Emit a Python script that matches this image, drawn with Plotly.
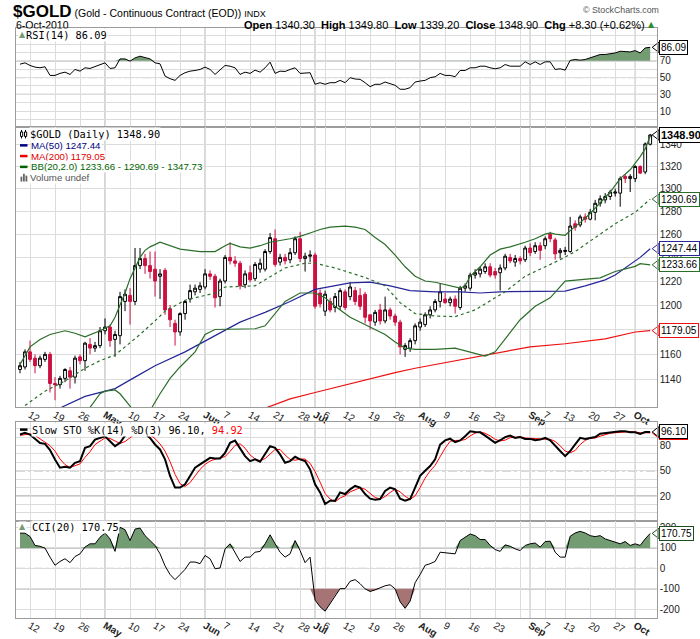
import numpy as np
import pandas as pd
import plotly.graph_objects as go

# trading days on the chart (8-Apr-2010 .. 6-Oct-2010), exchange holidays left out
HOLIDAYS = ["2010-05-31", "2010-07-05", "2010-09-06"]
DATES = [d for d in pd.bdate_range("2010-04-08", "2010-10-06")
         if d.strftime("%Y-%m-%d") not in HOLIDAYS]

# daily candles
OPEN = [1148, 1150, 1162, 1157, 1151, 1156, 1160, 1137, 1136, 1141, 1147, 1142, 1158, 1155, 1168, 1165, 1167,
        1179, 1182, 1172, 1175, 1203, 1208, 1203, 1233, 1239, 1233, 1230, 1224, 1229, 1197, 1185, 1178, 1193, 1205, 1211, 1213,
        1215, 1226, 1224, 1207, 1220, 1240, 1237, 1235, 1217, 1227, 1222, 1230, 1230, 1245, 1256, 1236, 1240, 1238, 1244, 1256, 1239, 1241,
        1242, 1210, 1195, 1203, 1198, 1199, 1211, 1207, 1212, 1208, 1209, 1192, 1186, 1196, 1187, 1196, 1191, 1186, 1164, 1165, 1171,
        1182, 1184, 1192, 1196, 1203, 1205, 1202, 1205, 1198, 1214, 1214, 1225, 1226, 1228, 1232, 1228, 1227, 1231, 1240, 1236, 1239, 1238,
        1248, 1245, 1250, 1250, 1260, 1255, 1244, 1245, 1245, 1269, 1268, 1275, 1273, 1279, 1287, 1290, 1293, 1296, 1296, 1311, 1309,
        1309, 1320, 1315, 1340.3]
HIGH = [1154, 1164, 1171, 1160, 1159, 1162, 1162, 1142, 1143, 1149, 1150, 1159, 1160, 1170, 1173, 1170, 1182,
        1189, 1184, 1179, 1211, 1213, 1214, 1248, 1248, 1243, 1245, 1245, 1230, 1231, 1200, 1188, 1194, 1204, 1217, 1217, 1219,
        1230, 1229, 1226, 1222, 1242, 1253, 1241, 1237, 1229, 1233, 1236, 1239, 1247, 1261, 1264, 1243, 1243, 1248, 1258, 1262, 1244, 1246,
        1244, 1213, 1212, 1206, 1210, 1214, 1213, 1219, 1215, 1214, 1211, 1192, 1196, 1201, 1207, 1198, 1193, 1188, 1169, 1173, 1185,
        1189, 1194, 1199, 1205, 1218, 1210, 1207, 1208, 1216, 1218, 1227, 1230, 1232, 1235, 1235, 1231, 1234, 1243, 1243, 1242, 1241, 1250,
        1252, 1253, 1253, 1258, 1262, 1257, 1248, 1249, 1275, 1272, 1277, 1278, 1282, 1290, 1294, 1296, 1299, 1300, 1311, 1313, 1313,
        1321, 1321, 1342, 1349.8]
LOW = [1145, 1148, 1154, 1145, 1149, 1154, 1130, 1124, 1133, 1138, 1133, 1137, 1152, 1147, 1160, 1162, 1165,
       1176, 1166, 1158, 1168, 1195, 1184, 1200, 1230, 1226, 1222, 1207, 1205, 1192, 1182, 1167, 1175, 1188, 1202, 1208, 1210,
       1213, 1221, 1198, 1199, 1218, 1234, 1232, 1213, 1214, 1219, 1220, 1227, 1228, 1243, 1232, 1233, 1234, 1235, 1242, 1236, 1228, 1236,
       1197, 1198, 1191, 1194, 1194, 1196, 1196, 1204, 1200, 1196, 1185, 1180, 1183, 1184, 1185, 1188, 1183, 1160, 1158, 1162, 1168,
       1179, 1182, 1189, 1194, 1198, 1201, 1199, 1193, 1196, 1211, 1212, 1222, 1223, 1226, 1223, 1222, 1212, 1229, 1235, 1232, 1234, 1236,
       1241, 1243, 1238, 1247, 1253, 1238, 1239, 1242, 1244, 1263, 1266, 1270, 1272, 1272, 1284, 1287, 1290, 1293, 1284, 1305, 1297,
       1306, 1313, 1313, 1339.2]
CLOSE = [1151, 1162, 1156, 1151, 1157, 1160, 1137, 1136, 1141, 1148, 1142, 1157, 1155, 1169, 1165, 1167, 1179,
         1182, 1171, 1176, 1207, 1209, 1203, 1233, 1239, 1233, 1228, 1220, 1226, 1196, 1188, 1178, 1193, 1203, 1212, 1214, 1216,
         1226, 1224, 1206, 1220, 1240, 1237, 1235, 1216, 1226, 1221, 1234, 1235, 1245, 1257, 1234, 1240, 1237, 1244, 1256, 1239, 1241, 1242,
         1199, 1201, 1209, 1196, 1207, 1212, 1198, 1215, 1203, 1199, 1190, 1187, 1194, 1187, 1196, 1191, 1186, 1166, 1167, 1171, 1183,
         1186, 1192, 1196, 1203, 1211, 1202, 1205, 1199, 1214, 1216, 1225, 1227, 1230, 1232, 1225, 1225, 1231, 1241, 1237, 1239, 1237, 1248,
         1244, 1250, 1246, 1256, 1256, 1243, 1246, 1246, 1267, 1266, 1275, 1273, 1279, 1287, 1291, 1293, 1297, 1297, 1309, 1309, 1311,
         1320, 1314, 1340.6, 1348.9]

RSI = [66, 67.6, 64.5, 62.5, 61.7, 62.9, 52.6, 52.6, 55, 56.5, 53.8, 59.7, 57.7, 61.7, 60.9, 62.9, 65.2,
       67.6, 60.9, 61.7, 72.3, 72.3, 69.6, 73.5, 75.5, 73.5, 72.3, 67.6, 66.4, 51.8, 48.7, 46.7, 52.6, 55.8, 57.7, 58.5, 59.7,
       62.5, 59.7, 53.8, 59.7, 64.5, 63.6, 61.7, 53.8, 56.5, 55, 58.9, 56.5, 61.7, 68.4, 55, 57.7, 57.3, 59.7, 61.7, 55, 55, 55.8,
       42, 43.9, 42, 43.9, 43.9, 46.7, 43.9, 49.9, 48.3, 47.9, 43.9, 39.2, 42, 42, 44.7, 42.8, 40.8, 36.1, 36.1, 38, 44.7,
       45.9, 46.7, 49.9, 51, 55, 52.6, 52.6, 51, 58.5, 58.5, 61.7, 61.7, 63.6, 63.6, 61.7, 60.5, 61.7, 65.6, 63.6, 63.6, 63.6, 68.8,
       65.6, 68.8, 65.6, 68.8, 68.8, 59.7, 60.5, 58.9, 70.5, 71.6, 70.8, 71.6, 73.5, 76.3, 77.5, 77.5, 78.3, 79.4, 81.4, 81.4, 80.6,
       82.2, 79.4, 85.4, 86.09]

STO_K = [93, 95, 93, 88, 83, 82, 74.5, 63.5, 53.6, 54.8, 53.6, 59.5, 61.5, 77.2, 79.2, 87, 89,
         90.9, 85, 79.2, 83.1, 91.7, 94, 94.8, 94.8, 94, 89, 81.2, 75.3, 63.5, 43.9, 30.1, 30.1, 34, 43.9, 53.6, 57.6,
         61.5, 65.4, 64.6, 64.6, 71.3, 83.1, 85.8, 77.2, 67.4, 61.5, 63.5, 60.7, 69.4, 79.2, 77.2, 69.4, 59.5, 61.5, 66.6, 63.5, 61.5, 51.6,
         34, 24.3, 10.6, 14.5, 14.5, 24.2, 22.4, 28, 32, 30, 22.4, 17, 15.7, 16.5, 26.2, 30, 28, 17, 14.5, 16.5, 30,
         44, 50, 55.6, 63.5, 81, 86, 88, 84, 86, 91, 96.8, 96, 95.6, 91.7, 87, 83.1, 86.2, 90, 91.7, 89, 90, 87.8,
         87.8, 86.2, 87, 89, 86.2, 79.3, 73.4, 67.4, 73.4, 81.2, 89, 87.8, 89, 90, 94, 94.8, 94.8, 95.6, 96.8, 96.8, 95.6,
         95.6, 93.6, 96, 96.1]
STO_D = [92, 93, 93.7, 92, 88, 84.3, 79.8, 73.3, 63.9, 57.3, 54, 56, 58.2, 66, 72.6, 81.1, 85,
         89, 88.3, 85, 82.4, 84.7, 89.6, 93.5, 94.5, 94.5, 92.6, 88.1, 81.8, 73.3, 60.9, 45.8, 34.7, 31.4, 36, 43.8, 51.7,
         57.6, 61.5, 63.8, 64.9, 66.8, 73, 80.1, 82, 76.8, 68.7, 64.1, 61.9, 64.5, 69.8, 75.3, 75.3, 68.7, 63.5, 62.5, 63.9, 63.9, 58.9,
         49, 36.6, 23, 16.5, 13.2, 17.7, 20.4, 24.9, 27.5, 30, 28.1, 23.1, 18.4, 16.4, 19.5, 24.2, 28.1, 25, 19.8, 16, 20.3,
         30.2, 41.3, 49.9, 56.4, 66.7, 76.8, 85, 86, 86, 87, 91.3, 94.6, 96.1, 94.4, 91.4, 87.3, 85.4, 86.4, 89.3, 90.2, 90.2, 88.9,
         88.5, 87.3, 87, 87.4, 87.4, 84.8, 79.6, 73.4, 71.4, 74, 81.2, 86, 88.6, 88.9, 91, 92.9, 94.5, 95.1, 95.7, 96.4, 96.4,
         96, 95, 95.1, 94.92]

CCI = [172, 172, 156, 112, 108, 99, 55, 15, 34, 47, 28, 58, 71, 104, 120, 120, 152,
       173, 144, 83, 201, 189, 136, 192, 197, 160, 136, 112, 71, 12, -30, -55, -30, -5, 31, 31, 23,
       63, 47, -2, 2, 95, 120, 76, 34, 55, 55, 79, 83, 120, 164, 120, 79, 55, 71, 136, 87, 28, 55,
       -155, -188, -209, -171, -131, -99, -99, -63, -55, -75, -100, -113, -105, -95, -85, -80, -100, -163, -195, -160, -70,
       -30, 15, 23, 34, 79, 76, 71, 71, 136, 152, 168, 160, 141, 141, 112, 92, 83, 115, 108, 95, 87, 112,
       120, 124, 104, 131, 133, 79, 55, 55, 157, 173, 181, 173, 160, 155, 160, 144, 136, 128, 120, 131, 112,
       120, 112, 144, 170.75]

# overlay lines at sample dates (MM-DD)
BB_UP_D = ["04-08", "04-12", "04-14", "04-16", "04-21", "04-23", "04-27", "04-30", "05-04", "05-05", "05-06", "05-07",
           "05-10", "05-11", "05-12", "05-13", "05-14", "05-18", "05-20", "05-24", "05-28", "06-03", "06-07", "06-08",
           "06-10", "06-14", "06-16", "06-18", "06-24", "06-28", "06-30", "07-02", "07-07", "07-12", "07-14", "07-16",
           "07-20", "07-22", "07-26", "07-28", "07-30", "08-03", "08-05", "08-09", "08-12", "08-13", "08-16", "08-18",
           "08-20", "08-24", "08-26", "08-31", "09-02", "09-07", "09-08", "09-09", "09-13", "09-14", "09-16", "09-20",
           "09-22", "09-24", "09-28", "09-30", "10-04", "10-05", "10-06"]
BB_UP = [1152, 1166, 1172, 1176, 1179, 1177, 1174, 1179, 1183, 1190, 1200, 1210,
         1222, 1231, 1240, 1246, 1249, 1253, 1250, 1247, 1245, 1245, 1250, 1252,
         1249, 1248, 1250, 1253, 1256, 1258, 1261, 1264, 1266, 1267, 1266, 1264,
         1257, 1251, 1242, 1232, 1224, 1220, 1219, 1217, 1214, 1216, 1224, 1232,
         1242, 1247, 1249, 1253, 1256, 1260, 1261, 1260, 1259, 1263, 1270, 1278,
         1287, 1297, 1309, 1317, 1329, 1336, 1347.73]
BB_MID_D = ["04-09", "04-15", "04-21", "04-27", "04-30", "05-05", "05-07", "05-12", "05-17", "05-19", "05-25", "06-03",
            "06-07", "06-15", "06-17", "06-23", "06-29", "07-01", "07-08", "07-13", "07-16", "07-22", "07-27", "07-30",
            "08-05", "08-11", "08-17", "08-23", "08-25", "08-31", "09-07", "09-10", "09-15", "09-20", "09-23", "09-27",
            "10-01", "10-06"]
BB_MID = [1120, 1131, 1139, 1149, 1155, 1159.5, 1166, 1176, 1187, 1195, 1204, 1210,
          1215, 1216, 1221, 1231, 1235, 1235, 1231, 1227, 1223, 1216, 1202, 1193,
          1191, 1190.5, 1196, 1206, 1211, 1224, 1232, 1238, 1245, 1254, 1263, 1269,
          1279, 1290.69]
BB_LO_D = ["04-26", "04-28", "04-30", "05-03", "05-05", "05-06", "05-10", "05-12", "05-14", "05-18", "05-20", "05-24",
           "05-27", "06-01", "06-03", "06-09", "06-15", "06-17", "06-21", "06-23", "06-28", "07-01", "07-06", "07-08",
           "07-13", "07-16", "07-22", "07-26", "07-28", "07-30", "08-05", "08-11", "08-16", "08-19", "08-23", "08-25",
           "08-30", "09-02", "09-08", "09-13", "09-15", "09-22", "09-27", "10-01", "10-04", "10-06"]
BB_LO = [1108, 1118, 1129, 1131, 1132, 1129, 1120, 1110, 1116, 1129, 1141, 1150,
         1162, 1176, 1180, 1180.6, 1180.6, 1183, 1193, 1203, 1210, 1210, 1206, 1199,
         1190, 1184, 1176, 1170, 1165, 1164, 1164, 1165, 1162, 1158.7, 1162, 1172.5,
         1188, 1199, 1206, 1220, 1220.7, 1222.7, 1228, 1232.4, 1234.6, 1233.66]
MA50_D = ["04-15", "04-20", "04-27", "05-05", "05-11", "05-17", "05-25", "06-03", "06-10", "06-17", "06-24", "07-01",
          "07-13", "07-19", "07-23", "07-29", "08-05", "08-12", "08-18", "08-24", "09-02", "09-13", "09-17", "09-23",
          "09-27", "09-30", "10-04", "10-06"]
MA50 = [1110, 1118, 1127, 1133, 1142, 1151, 1162, 1175, 1186, 1194, 1203, 1213,
        1218.5, 1219, 1216, 1212, 1211, 1211, 1210, 1211, 1211, 1211.6, 1216, 1221,
        1225, 1234, 1240, 1247.44]
MA200_D = ["06-15", "06-17", "06-24", "07-01", "07-13", "07-16", "07-26", "07-30", "08-10", "08-19", "09-01", "09-13",
           "09-23", "10-01", "10-06"]
MA200 = [1115, 1118, 1125, 1130, 1137, 1140, 1145.5, 1149, 1154, 1159, 1166, 1168.5,
         1172.5, 1178, 1179.05]

TICK_D = ["04-12", "04-19", "04-26", "05-03", "05-10", "05-17", "05-24", "06-01", "06-07", "06-14", "06-21", "06-28",
          "07-01", "07-06", "07-12", "07-19", "07-26", "08-02", "08-09", "08-16", "08-23", "08-30", "09-01", "09-07",
          "09-13", "09-20", "09-27", "10-01"]
TICK_LBL = ["12", "19", "26", "May", "10", "17", "24", "Jun", "7", "14", "21", "28",
            "Jul", "6", "12", "19", "26", "Aug", "9", "16", "23", "", "Sep", "7",
            "13", "20", "27", "Oct"]
MONTHS = ["May", "Jun", "Jul", "Aug", "Sep", "Oct"]

# ---------------------------------------------------------------------------
n = len(DATES)
x = np.arange(n)
pos = {d.strftime("%m-%d"): i for i, d in enumerate(DATES)}


def at(ds):
    return [pos[d] for d in ds]


W, H = 700, 639


def fx(p):
    return p / W


def fy(p):
    return 1 - p / H


GREEN_FILL = "#739c73"
RED_FILL = "#a67474"
CANDLE_RED = "#cc1040"
BB_GREEN = "#2a6e2a"
MA50_BLUE = "#26269a"
MA200_RED = "#ee1111"
GRID = "#dcdcdc"
MONTH_GRID = "#a8a8a8"
FRAME = "#9c9c9c"
REF = "#7a7a7a"
MONO = "DejaVu Sans Mono"
SANS = "Liberation Sans"

XR = [-0.8, n + 0.3]
XD = [fx(16), fx(656.7)]
DOM = {
    "y": [fy(128), fy(28)],
    "y2": [fy(410.7), fy(128)],
    "y3": [fy(525), fy(425.7)],
    "y4": [fy(623), fy(525)],
}

tickpos = at(TICK_D)
ticktext = [f"<b>{t}</b>" if t in MONTHS else t for t in TICK_LBL]

fig = go.Figure()

# RSI panel
rsi = np.array(RSI)
fig.add_trace(go.Scatter(x=x, y=[70] * n, mode="lines", line=dict(width=0), xaxis="x", yaxis="y", hoverinfo="skip"))
fig.add_trace(go.Scatter(x=x, y=np.maximum(rsi, 70), mode="lines", line=dict(width=0), fill="tonexty",
                         fillcolor=GREEN_FILL, xaxis="x", yaxis="y", hoverinfo="skip"))
fig.add_trace(go.Scatter(x=x, y=rsi, mode="lines", line=dict(color="black", width=1), xaxis="x", yaxis="y"))

# price panel
fig.add_trace(go.Candlestick(x=x, open=OPEN, high=HIGH, low=LOW, close=CLOSE, xaxis="x2", yaxis="y2",
                             increasing=dict(line=dict(color="black", width=1), fillcolor="white"),
                             decreasing=dict(line=dict(color=CANDLE_RED, width=1), fillcolor=CANDLE_RED),
                             whiskerwidth=0))
fig.add_trace(go.Scatter(x=at(MA200_D), y=MA200, mode="lines", line=dict(color=MA200_RED, width=1.2),
                         xaxis="x2", yaxis="y2"))
fig.add_trace(go.Scatter(x=at(MA50_D), y=MA50, mode="lines", line=dict(color=MA50_BLUE, width=1.2),
                         xaxis="x2", yaxis="y2"))
fig.add_trace(go.Scatter(x=at(BB_MID_D), y=BB_MID, mode="lines", line=dict(color=BB_GREEN, width=1.2, dash="dot"),
                         xaxis="x2", yaxis="y2"))
fig.add_trace(go.Scatter(x=at(BB_UP_D), y=BB_UP, mode="lines", line=dict(color=BB_GREEN, width=1.2),
                         xaxis="x2", yaxis="y2"))
fig.add_trace(go.Scatter(x=at(BB_LO_D), y=BB_LO, mode="lines", line=dict(color=BB_GREEN, width=1.2),
                         xaxis="x2", yaxis="y2"))

# slow stochastics
fig.add_trace(go.Scatter(x=x, y=STO_D, mode="lines", line=dict(color="#ff0000", width=1), xaxis="x3", yaxis="y3"))
fig.add_trace(go.Scatter(x=x, y=STO_K, mode="lines", line=dict(color="black", width=2), xaxis="x3", yaxis="y3"))

# CCI
cci = np.array(CCI)
fig.add_trace(go.Scatter(x=x, y=[100] * n, mode="lines", line=dict(width=0), xaxis="x4", yaxis="y4", hoverinfo="skip"))
fig.add_trace(go.Scatter(x=x, y=np.maximum(cci, 100), mode="lines", line=dict(width=0), fill="tonexty",
                         fillcolor=GREEN_FILL, xaxis="x4", yaxis="y4", hoverinfo="skip"))
fig.add_trace(go.Scatter(x=x, y=[-100] * n, mode="lines", line=dict(width=0), xaxis="x4", yaxis="y4", hoverinfo="skip"))
fig.add_trace(go.Scatter(x=x, y=np.minimum(cci, -100), mode="lines", line=dict(width=0), fill="tonexty",
                         fillcolor=RED_FILL, xaxis="x4", yaxis="y4", hoverinfo="skip"))
fig.add_trace(go.Scatter(x=x, y=cci, mode="lines", line=dict(color="black", width=1), xaxis="x4", yaxis="y4"))

# last-value tags on the right scale: (axis, value, border colour, bold)
tags = [("y", RSI[-1], "black", False),
        ("y2", CLOSE[-1], "black", True),
        ("y2", BB_MID[-1], BB_GREEN, False),
        ("y2", MA50[-1], MA50_BLUE, False),
        ("y2", BB_LO[-1], BB_GREEN, False),
        ("y2", MA200[-1], MA200_RED, False),
        ("y3", STO_D[-1], "#ff0000", False),
        ("y3", STO_K[-1], "black", False),
        ("y4", CCI[-1], "#1d4d1d", False)]

# pointed left end of each tag, sitting on the right frame
for yref, v, col, bold in tags:
    xref = "x" if yref == "y" else "x" + yref[1:]
    fig.add_trace(go.Scatter(x=[XR[1]], y=[v], mode="markers", xaxis=xref, yaxis=yref, cliponaxis=False,
                             marker=dict(symbol="triangle-left", size=9, color="white", line=dict(color=col, width=1)),
                             hoverinfo="skip"))

tickfont = dict(family=SANS, size=10, color="#222")


def xaxis(anchor, labels):
    return dict(domain=XD, range=XR, anchor=anchor, showgrid=True, gridcolor=GRID, gridwidth=1,
                tickvals=tickpos, ticktext=ticktext, showticklabels=labels, ticks="", ticklabelstandoff=-3,
                tickfont=dict(family=SANS, size=10, color="#222"),
                showline=True, mirror=True, linecolor=FRAME, zeroline=False, rangeslider=dict(visible=False))


def yaxis(anchor, dom, rng, vals, text, kind="linear"):
    return dict(domain=dom, range=rng, anchor=anchor, side="right", type=kind, tickvals=vals, ticktext=text,
                showgrid=True, gridcolor=GRID, ticks="", tickfont=tickfont, showline=True, mirror=True,
                linecolor=FRAME, zeroline=False)


dec = list(range(0, 101, 10))
rsi_lbl = [str(v) if v in (10, 30, 50, 70, 90) else "" for v in dec]
sto_lbl = [str(v) if v in (20, 50, 80) else "" for v in dec]
price_ticks = list(range(1140, 1341, 20))

fig.update_layout(
    width=W, height=H, margin=dict(l=0, r=0, t=0, b=0),
    paper_bgcolor="white", plot_bgcolor="white", showlegend=False, boxgap=0.2,
    font=dict(family=SANS, size=10, color="black"),
    xaxis=xaxis("y", False), xaxis2=xaxis("y2", True), xaxis3=xaxis("y3", False), xaxis4=xaxis("y4", True),
    yaxis=yaxis("x", DOM["y"], [-8.9, 109.4], dec, rsi_lbl),
    yaxis2=yaxis("x2", DOM["y2"], [np.log10(1118.4), np.log10(1356.3)], price_ticks,
                 [str(v) for v in price_ticks], kind="log"),
    yaxis3=yaxis("x3", DOM["y3"], [-9.4, 107.4], dec, sto_lbl),
    yaxis4=yaxis("x4", DOM["y4"], [-243, 232], [-200, -100, 0, 100, 200], ["-200", "-100", "0", "100", "200"]),
)

# month separators and indicator reference levels
shapes = []
for t, lbl in zip(tickpos, TICK_LBL):
    if lbl in MONTHS:
        for ax in ("x", "x2", "x3", "x4"):
            yref = "y" if ax == "x" else "y" + ax[1:]
            shapes.append(dict(type="line", xref=ax, yref=yref + " domain", x0=t, x1=t, y0=0, y1=1,
                               line=dict(color=MONTH_GRID, width=1), layer="below"))
for yref, lvl, dash in [("y", 70, "solid"), ("y", 30, "solid"), ("y", 50, "dashdot"),
                        ("y3", 80, "solid"), ("y3", 20, "solid"), ("y3", 50, "dashdot"),
                        ("y4", 100, "solid"), ("y4", -100, "solid"), ("y4", 0, "dashdot")]:
    xref = "x" if yref == "y" else "x" + yref[1:]
    shapes.append(dict(type="line", xref=xref + " domain", yref=yref, x0=0, x1=1, y0=lvl, y1=lvl,
                       line=dict(color=REF, width=1, dash=dash), layer="below"))


# small legend icons (coloured dashes, candle glyph)
def icon_line(py, col):
    shapes.append(dict(type="line", xref="paper", yref="paper", x0=fx(20), x1=fx(27.5), y0=fy(py), y1=fy(py),
                       line=dict(color=col, width=2.5)))


icon_line(146.5, "#000080")
icon_line(157.3, "#ee0000")
icon_line(168.2, "#006400")
icon_line(433, "black")
for x0 in (20.5, 24.5):
    shapes.append(dict(type="line", xref="paper", yref="paper", x0=fx(x0 + 1), x1=fx(x0 + 1),
                       y0=fy(139.5), y1=fy(131), line=dict(color="black", width=1)))
    shapes.append(dict(type="rect", xref="paper", yref="paper", x0=fx(x0), x1=fx(x0 + 2.2),
                       y0=fy(137.5), y1=fy(133), line=dict(color="black", width=1), fillcolor="white"))
for x0, h in ((20.5, 5), (23, 8), (25.5, 6)):
    shapes.append(dict(type="rect", xref="paper", yref="paper", x0=fx(x0), x1=fx(x0 + 1.8),
                       y0=fy(183), y1=fy(183 - h), line=dict(width=0), fillcolor="#666"))
fig.update_layout(shapes=shapes)

ann = []


def label(px, py, text, color="black", size=10, family=SANS, anchor="left", bg=None):
    ann.append(dict(xref="paper", yref="paper", x=fx(px), y=fy(py), text=text, showarrow=False,
                    xanchor=anchor, yanchor="middle", font=dict(family=family, size=size, color=color),
                    bgcolor=bg, borderpad=0))


# header
label(12, 12, "<span style='font-size:17px'><b>$GOLD</b></span> (Gold - Continuous Contract (EOD)) "
      "<span style='font-size:9px'>INDX</span>", size=10.5)
label(15, 25, "6-Oct-2010", size=10.5)
label(646, 25, f"<b>Open</b> {OPEN[-1]:.2f}  <b>High</b> {HIGH[-1]:.2f}  <b>Low</b> {LOW[-1]:.2f}  "
      f"<b>Close</b> {CLOSE[-1]:.2f}  <b>Chg</b> +{CLOSE[-1] - CLOSE[-2]:.2f} "
      f"(+{(CLOSE[-1] / CLOSE[-2] - 1) * 100:.2f}%)", size=11, anchor="right")
label(647, 25, "▲", color="#2e8b2e", size=8, family="DejaVu Sans")
label(660, 10, "© StockCharts.com", color="#555", size=8.8, anchor="right")

# panel legends
label(18, 35, "▲", color=GREEN_FILL, size=8, family="DejaVu Sans", bg="white")
label(25, 35, f"RSI(14) {RSI[-1]:.2f}", family=MONO, size=10.3, bg="white")
label(29, 135, f"$GOLD (Daily) {CLOSE[-1]:.2f}", family=MONO, size=10.3, bg="white")
label(30, 146.5, f"MA(50) {MA50[-1]:.2f}", color="#000080", size=9.7, bg="white")
label(30, 157.3, f"MA(200) {MA200[-1]:.2f}", color="#e00000", size=9.7, bg="white")
label(30, 168.2, f"BB(20,2.0) {BB_LO[-1]:.2f} - {BB_MID[-1]:.2f} - {BB_UP[-1]:.2f}", color="#006400", size=9.7,
      bg="white")
label(29, 179, "Volume undef", color="#555", size=9.7, bg="white")
label(31, 433, f"Slow STO %K(14) %D(3) {STO_K[-1]:.2f}, <span style='color:#ff0000'>{STO_D[-1]:.2f}</span>",
      family=MONO, size=10.3, bg="white")
label(18, 531, "▲", color=GREEN_FILL, size=8, family="DejaVu Sans", bg="white")
label(31, 531, f"CCI(20) {CCI[-1]:.2f}", family=MONO, size=10.3, bg="white")

for yref, v, col, bold in tags:
    xref = "x" if yref == "y" else "x" + yref[1:]
    yv = np.log10(v) if yref == "y2" else v
    txt = f"<b>{v:.2f}</b>" if bold else f"{v:.2f}"
    ann.append(dict(xref=xref + " domain", yref=yref, x=1, y=yv, text=txt, showarrow=False,
                    xanchor="left", yanchor="middle", xshift=2, bgcolor="white", bordercolor=col,
                    borderwidth=1, borderpad=1,
                    font=dict(family=SANS, size=11 if bold else 10, color="black")))

fig.update_layout(annotations=ann)
# the page body keeps its default 8px margin otherwise, which pushes the 700x639 figure off the window
fig.write_html("out.html", config={"displayModeBar": False},
               post_script="document.body.style.margin='0px';")
